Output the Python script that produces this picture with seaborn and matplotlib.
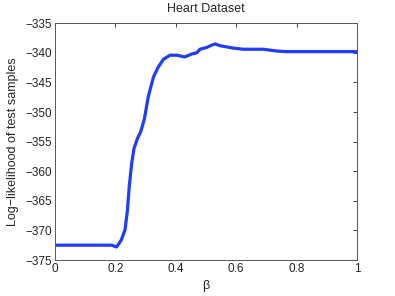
import matplotlib
matplotlib.use("Agg")
import matplotlib.pyplot as plt
import seaborn as sns
import pandas as pd

beta = [0.0, 0.10, 0.188, 0.204, 0.22, 0.232, 0.24, 0.246, 0.254, 0.262, 0.273, 0.284,
        0.296, 0.309, 0.326, 0.342, 0.359, 0.381, 0.403, 0.430, 0.453, 0.469, 0.480,
        0.502, 0.519, 0.530, 0.546, 0.568, 0.590, 0.623, 0.657, 0.690, 0.734, 0.767,
        0.822, 0.90, 1.0]
loglik = [-372.5, -372.5, -372.5, -372.8, -371.6, -369.9, -366.6, -362.6, -358.7, -356.1,
          -354.5, -353.3, -351.2, -347.4, -344.1, -342.4, -341.1, -340.4, -340.4, -340.7,
          -340.2, -340.0, -339.4, -339.1, -338.7, -338.5, -338.8, -339.0, -339.2, -339.4,
          -339.4, -339.4, -339.7, -339.8, -339.8, -339.8, -339.8]
xticks = [0, 0.2, 0.4, 0.6, 0.8, 1]
yticks = [-375, -370, -365, -360, -355, -350, -345, -340, -335]

sns.set_style("white")
plt.rcParams['font.family'] = ['Liberation Sans', 'DejaVu Sans']

df = pd.DataFrame({"beta": beta, "ll": loglik})
fig = plt.figure(figsize=(3.95, 2.96), dpi=100)
ax = fig.add_axes([0.139, 0.1216, 0.765, 0.8])
sns.lineplot(data=df, x="beta", y="ll", ax=ax, color="#1f3cff", linewidth=2.3)
ax.set_xlim(0, 1)
ax.set_ylim(-375, -335)
ax.set_xticks(xticks)
ax.set_xticklabels([f"{t:g}" for t in xticks])
ax.set_yticks(yticks)
ax.set_yticklabels([str(t).replace("-", "\u2212") for t in yticks])
ax.tick_params(direction="in", length=3, width=0.6, top=True, right=True,
               labelsize=8.5, colors="#222222", pad=2)
for s in ax.spines.values():
    s.set_color("#555555")
    s.set_linewidth(0.7)
ax.set_xlabel("β", fontsize=9, labelpad=4)
ax.set_ylabel("Log\u2212likelihood of test samples", fontsize=9, labelpad=5)
ax.set_title("Heart Dataset", fontsize=9, pad=8)
fig.savefig("out.png", dpi=100)
